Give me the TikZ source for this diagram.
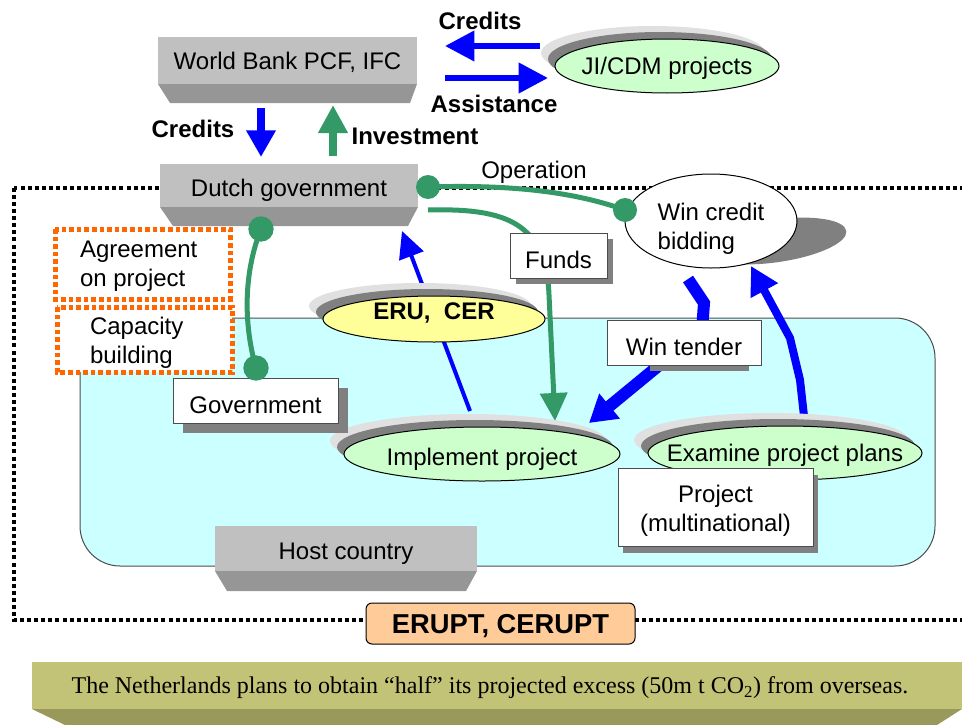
\documentclass[tikz,border=0pt]{standalone}
\usepackage{fontspec}
\setmainfont{Liberation Sans}
\newfontfamily\bannerfont{Liberation Serif}
\usetikzlibrary{arrows.meta,shapes.geometric,calc,shadows}

\definecolor{boxface}{HTML}{C0C0C0}
\definecolor{boxbevel}{HTML}{969696}
\definecolor{flowblue}{HTML}{0000FF}
\definecolor{flowgreen}{HTML}{339966}
\definecolor{paleGreen}{HTML}{CCFFCC}
\definecolor{paleYellow}{HTML}{FFFF99}
\definecolor{paleCyan}{HTML}{CCFFFF}
\definecolor{dotOrange}{HTML}{FF6600}
\definecolor{peach}{HTML}{FFCC99}
\definecolor{oliveFace}{HTML}{C3C378}
\definecolor{oliveBevel}{HTML}{99995C}
\definecolor{shadowDark}{HTML}{808080}
\definecolor{shadowLight}{HTML}{E0E0E0}

% two stacked offset shadows behind an oval
\newcommand\ovalshade[3]{%
  \fill[shadowLight,shift={(-14,-13)}] #1 ellipse [x radius=#2, y radius=#3];
  \fill[shadowDark,shift={(-7,-7)}] #1 ellipse [x radius=#2, y radius=#3];}

\begin{document}
\begin{tikzpicture}[x=0.75pt,y=-0.75pt,
  every node/.style={inner sep=0pt, outer sep=0pt},
  sans/.style={font=\fontsize{18}{21.75}\selectfont},
  boldlbl/.style={font=\fontsize{18}{21.75}\selectfont\bfseries},
  capmid/.style={text height=12.96pt, text depth=0pt},
  capface/.style={text height=17.2pt, text depth=0pt},
  capbox/.style={text height=19.7pt, text depth=0pt},
  face/.style={sans, fill=boxface, draw=none},
  bevel/.style={fill=boxbevel},
  whitebox/.style={sans, draw=black!70, line width=0.75pt, fill=white, align=center},
  oval/.style={ellipse, draw=black, line width=0.75pt, inner sep=0pt},
  orangedots/.style={draw=dotOrange, line width=3.75pt, dash pattern=on 3.4pt off 2.3pt, fill=white},
  outerdots/.style={draw=black, line width=3pt, dash pattern=on 3pt off 2.3pt},
  greenline/.style={draw=flowgreen, line width=3.75pt},
  greendot/.style={fill=flowgreen},
  bluethin/.style={draw=flowblue, line width=3pt, -{Triangle[length=20pt,width=19pt]}},
  bluethick/.style={draw=flowblue, line width=9pt, line join=miter, -{Triangle[length=20pt,width=23pt]}},
  bluemid/.style={draw=flowblue, line width=6pt, line join=round, -{Triangle[length=21pt,width=22pt]}},
  dropshade/.style={drop shadow={shadow xshift=#1, shadow yshift=-#1, fill=shadowDark, opacity=1}}
]
\useasboundingbox (0,0) rectangle (962,724);
\clip (0,0) rectangle (962,724);

% outer dotted frame
\draw[outerdots] (14,188) rectangle (990,620);

% host-country region
\draw[fill=paleCyan, draw=black!70, line width=0.75pt, rounded corners=30pt] (80,318) rectangle (935,566);

% orange dotted boxes
\draw[orangedots] (55,229) rectangle (230,299);
\node[sans, align=left, anchor=west] (agree) at (80,266) {Agreement\\on project};
\draw[orangedots] (57,307) rectangle (232,372);
\node[sans, align=left, anchor=west] (capa) at (90,343) {Capacity\\building};

% bevelled grey boxes
\node[face, capmid, minimum width=194.25pt, minimum height=35.25pt] (wb) at (287.5,60.5) {World Bank PCF, IFC};
\fill[bevel] (wb.south west) -- (wb.south east) -- ++(-7,19) -- ($(wb.south west)+(12,19)$) -- cycle;

\node[face, capface, minimum width=193.5pt, minimum height=32.25pt] (dg) at (289,185.5) {Dutch government};
\fill[bevel] (dg.south west) -- (dg.south east) -- ++(-10,19) -- ($(dg.south west)+(13,19)$) -- cycle;

\node[face, capface, minimum width=196.5pt, minimum height=33.75pt] (host) at (346,548.5) {Host country};
\fill[bevel] (host.south west) -- (host.south east) -- ++(-11,20) -- ($(host.south west)+(12,20)$) -- cycle;

% footer banner
\node[fill=oliveFace, minimum width=697.5pt, minimum height=35.25pt] (banner) at (497,685.5) {};
\fill[oliveBevel] (banner.south west) -- (banner.south east) -- ++(-25,16) -- ($(banner.south west)+(33,16)$) -- cycle;
\node[font=\bannerfont\fontsize{18}{21}\selectfont, text height=11.9pt, text depth=0pt] (bannerTxt) at (490,686)
  {The Netherlands plans to obtain “half” its projected excess (50m t CO\textsubscript{2}) from overseas.};

% instrument label on the frame
\node[draw=black, line width=0.75pt, fill=peach, rounded corners=4.5pt, minimum width=201.75pt, minimum height=30.75pt,
  font=\fontsize{20.5}{23}\selectfont\bfseries, text height=14.8pt, text depth=0pt] (erupt) at (500.5,623.5) {ERUPT, CERUPT};

% project pool oval and its shadows
\ovalshade{(667,66)}{84pt}{20.25pt}
\node[oval, fill=paleGreen, minimum width=168pt, minimum height=40.5pt] (ji) at (667,66) {};
\node[sans, capmid] (jiTxt) at (ji) {JI/CDM projects};

% flows behind boxes and ovals
\coordinate (fundsStart) at (428,210);
\coordinate (fundsEnd) at (555,421);
\draw[greenline, -{Triangle[length=21pt,width=20pt]}] (fundsStart) .. controls (505,208) and (546,222) .. (549,295) -- (fundsEnd);

\coordinate (eruFoot) at (470,411);
\coordinate (eruTip) at (402,231);
\draw[bluethin] (eruFoot) -- (eruTip);

\coordinate (tenderTop) at (688,279);
\coordinate (tenderTip) at (589,423);
\draw[bluethick] (tenderTop) -- (704,303) -- (702,330) -- (tenderTip);

\coordinate (examFoot) at (804,416);
\coordinate (bidTip) at (751,266);
\draw[bluemid] (examFoot) -- (800,380) -- (790,338) -- (bidTip);

% credit bidding oval with its cast shadow
\fill[shadowDark, rotate around={8:(775,241)}] (775,241) ellipse [x radius=54pt, y radius=16pt];
\node[oval, fill=white, minimum width=129pt, minimum height=70.5pt] (bid) at (711,221) {};
\node[sans, align=left] (bidTxt) at (711,229) {Win credit\\bidding};

% operation link
\coordinate (opA) at (428,187);
\coordinate (opB) at (625,210);
\draw[greenline] (opA) .. controls (520,184) and (580,194) .. (opB);
\fill[greendot] (opA) circle[radius=9pt];
\fill[greendot] (opB) circle[radius=9pt];
\node[sans, capmid] (oplbl) at (534,170) {Operation};

\ovalshade{(434,319)}{83.25pt}{17.25pt}
\node[oval, fill=paleYellow, minimum width=166.5pt, minimum height=34.5pt] (eru) at (434,319) {};
\node[boldlbl, capmid] (eruTxt) at (434,311) {ERU,~~CER};

\ovalshade{(482,454)}{103.5pt}{20.25pt}
\node[oval, fill=paleGreen, minimum width=207pt, minimum height=40.5pt] (impl) at (482,454) {};
\node[sans, capmid] (implTxt) at (482,457) {Implement project};

\ovalshade{(785,453)}{102.75pt}{20.25pt}
\node[oval, fill=paleGreen, minimum width=205.5pt, minimum height=40.5pt] (exam) at (785,453) {};
\node[sans, capmid] (examTxt) at (785,453) {Examine project plans};

% white label boxes
\node[whitebox, capbox, dropshade=4.5pt, minimum width=72.75pt, minimum height=33.75pt] (funds) at (558.5,255.5) {Funds};
\fill[shadowDark] (650,360) rectangle (749,371);
\node[whitebox, capbox, minimum width=115.5pt, minimum height=33.75pt] (tender) at (684,342.5) {Win tender};
\node[whitebox, capbox, dropshade=7.5pt, minimum width=123.75pt, minimum height=33.75pt] (gov) at (255.5,400.5) {Government};
\node[whitebox, drop shadow={shadow xshift=4pt, shadow yshift=-5pt, fill=shadowDark, opacity=1},
  minimum width=146.25pt, minimum height=58.5pt] (proj) at (715.5,507) {};
\node[sans, align=center] (projTxt) at (715.5,511) {Project\\(multinational)};

% link from the Dutch government down to the host government
\coordinate (govTop) at (261,229);
\coordinate (govBot) at (256,368);
\draw[greenline] (govTop) .. controls (244,272) and (243,322) .. (govBot);
\fill[greendot] (govTop) circle[radius=9.5pt];
\fill[greendot] (govBot) circle[radius=9.5pt];

% exchanges with the World Bank and the project pool
\coordinate (credR) at (540,46);
\coordinate (credL) at (445,46);
\draw[flowblue, line width=4.5pt, -{Triangle[length=22pt,width=22pt]}] (credR) -- (credL);
\node[boldlbl] (credlbl) at (480,21) {Credits};
\coordinate (assL) at (445,78);
\coordinate (assR) at (548,78);
\draw[flowblue, line width=4.5pt, -{Triangle[length=22pt,width=22pt]}] (assL) -- (assR);
\node[boldlbl] (asslbl) at (494,104) {Assistance};

\coordinate (downTop) at (261,108);
\coordinate (downTip) at (261,157);
\draw[flowblue, line width=5.5pt, -{Triangle[length=20pt,width=21pt]}] (downTop) -- (downTip);
\node[boldlbl] (credlbl2) at (193,129) {Credits};
\coordinate (upFoot) at (333,156);
\coordinate (upTip) at (333,105);
\draw[flowgreen, line width=5.5pt, -{Triangle[length=21pt,width=21pt]}] (upFoot) -- (upTip);
\node[boldlbl] (invlbl) at (415,136) {Investment};
\end{tikzpicture}
\end{document}
